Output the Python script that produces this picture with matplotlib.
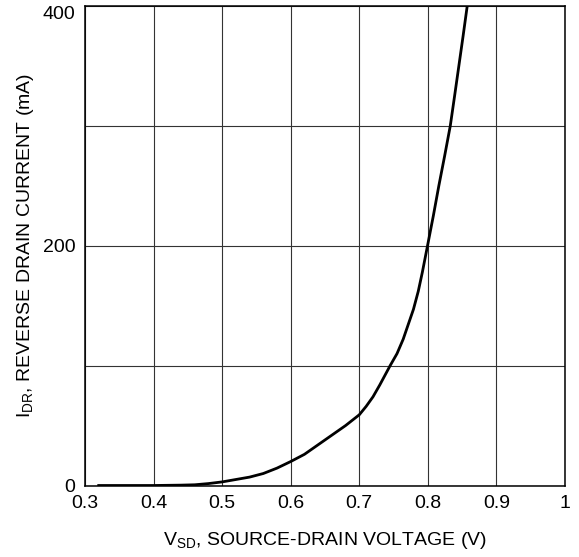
import matplotlib
matplotlib.use('Agg')
import matplotlib.pyplot as plt

# curve
vsd = [0.32, 0.40, 0.44, 0.46, 0.48, 0.50, 0.52, 0.54, 0.56, 0.58, 0.60,
       0.62, 0.65, 0.67, 0.68, 0.70, 0.71, 0.72, 0.73, 0.745, 0.755,
       0.764, 0.77, 0.779, 0.786, 0.792, 0.7995, 0.808, 0.816, 0.8245, 0.8327,
       0.839, 0.8452, 0.8514, 0.8574]
idr = [0, 0, 0.3, 0.6, 1.6, 3, 5, 7, 10, 14.5, 20,
       26, 38, 46, 50, 59, 66, 74, 84, 100, 110,
       122, 132, 147, 162, 178, 200, 225, 250, 275, 300,
       325, 350, 375, 400]

xticks = [0.3, 0.4, 0.5, 0.6, 0.7, 0.8, 0.9, 1.0]
xticklabels = ['0.3', '0.4', '0.5', '0.6', '0.7', '0.8', '0.9', '1']
ygrid = [0, 100, 200, 300, 400]
yticklabels = ['0', '', '200', '', '400']

plt.rcParams['font.family'] = ['Liberation Sans', 'DejaVu Sans']

fig = plt.figure(figsize=(5.79, 5.57), dpi=100)
ax = fig.add_axes([85/579, 1 - 485.5/557, 480/579, 479.5/557])

ax.plot(vsd, idr, color='black', lw=2.0, solid_joinstyle='round')

ax.set_xlim(0.3, 1.0)
ax.set_ylim(0, 400)
ax.set_xticks(xticks)
ax.set_xticklabels(xticklabels)
ax.set_yticks(ygrid)
ax.set_yticklabels(yticklabels)
ax.tick_params(length=0, labelsize=14, pad=7)
ax.grid(True, color='#333333', lw=0.8)
for s in ax.spines.values():
    s.set_linewidth(1.1)

# top label would be cut off, push it down
ax.get_yticklabels()[-1].set_va('top')

ax.set_xlabel('V$_{\\mathregular{SD}}$, SOURCE-DRAIN VOLTAGE (V)', fontsize=14, labelpad=13)
ax.set_ylabel('I$_{\\mathregular{DR}}$, REVERSE DRAIN CURRENT (mA)', fontsize=14, labelpad=5)

fig.savefig('out.png', dpi=100)
